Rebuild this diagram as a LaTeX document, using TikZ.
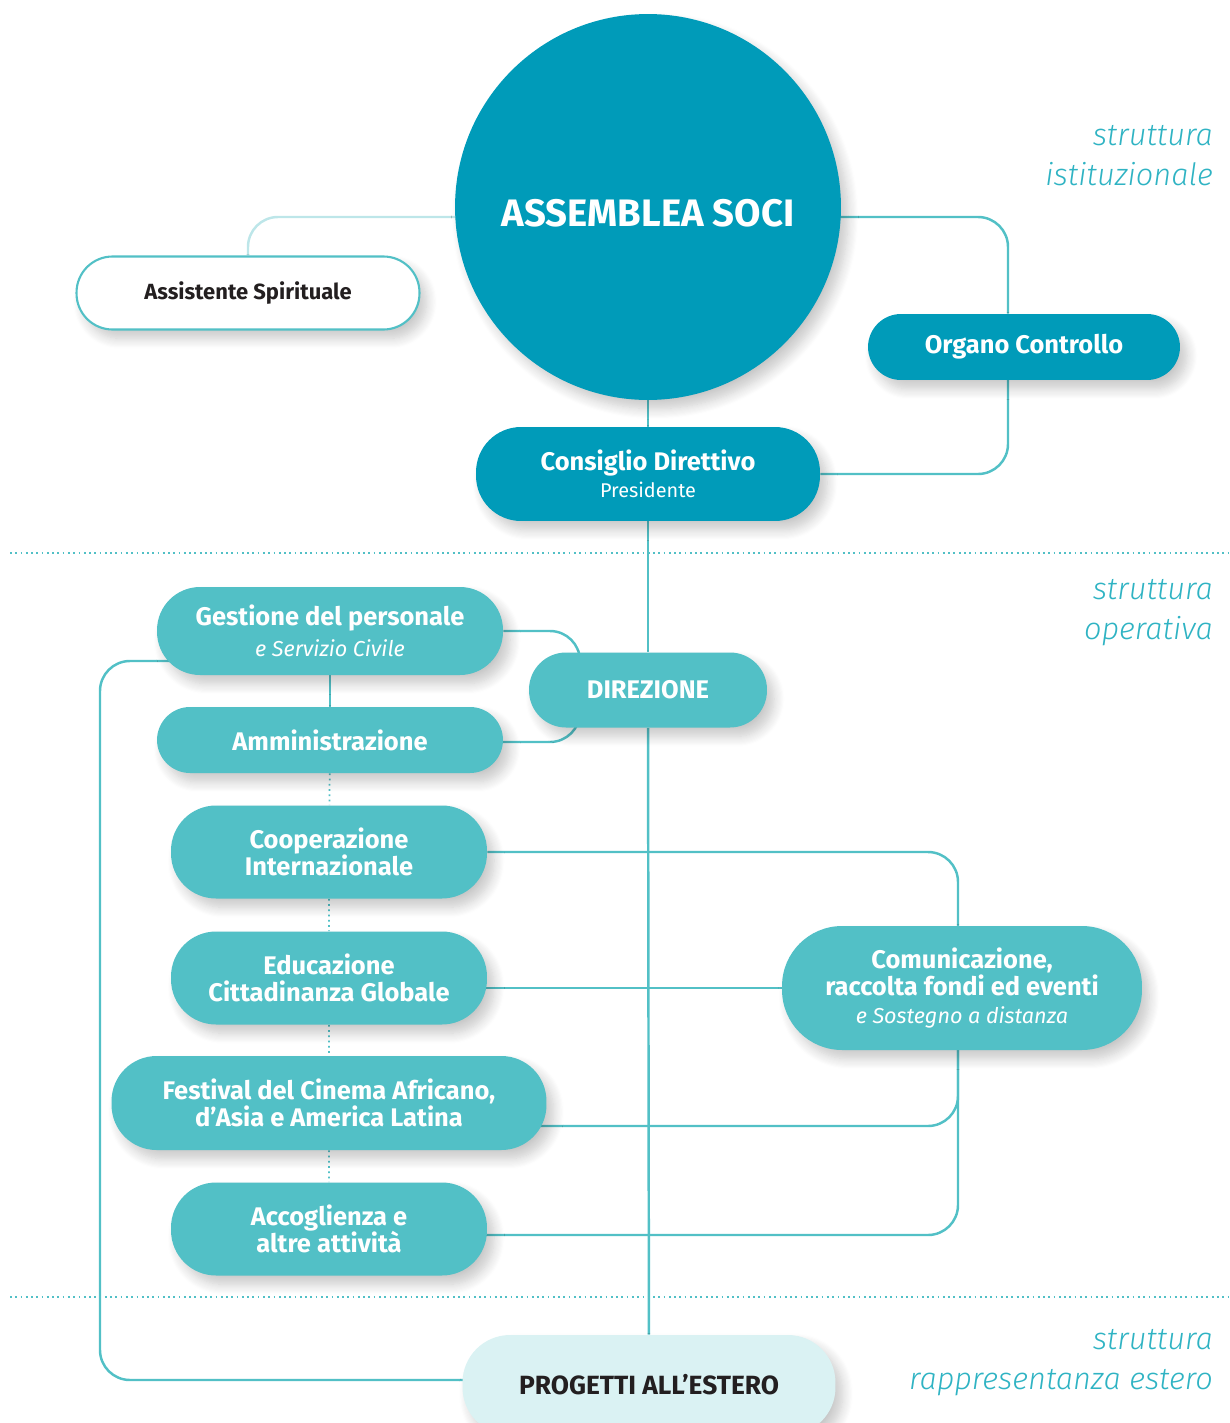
\documentclass[tikz,border=0pt]{standalone}
\usepackage{fontspec}
\setmainfont{Fira Sans}
\newfontfamily\thinfont{Fira Sans Light}
\usetikzlibrary{shadows.blur}
\definecolor{darkteal}{HTML}{009BB9}
\definecolor{midteal}{HTML}{52C0C6}
\definecolor{paleteal}{HTML}{BDE6E9}
\definecolor{iceteal}{HTML}{DAF2F3}
\definecolor{labteal}{HTML}{2FB3C3}
\definecolor{inkdark}{HTML}{231F20}
\pgfdeclarelayer{background}
\pgfsetlayers{background,main}
\newcommand\subtxt{\fontsize{12.3}{14}\selectfont\itshape\mdseries}

\begin{document}
\begin{tikzpicture}[x=0.02cm, y=-0.02cm,
    shade/.style={blur shadow={shadow blur steps=10, shadow xshift=4pt, shadow yshift=-5pt, shadow opacity=22, shadow blur radius=6pt}},
    pill/.style={rectangle, rounded corners=0.66cm, inner sep=2pt, align=center, text=white, font=\fontsize{14.5}{15.4}\selectfont\bfseries, shade},
    dnode/.style={pill, fill=darkteal},
    mnode/.style={pill, fill=midteal},
    link/.style={draw=midteal, line width=1.4pt, rounded corners=0.6cm},
    dots/.style={draw=midteal, line width=1pt, dotted},
    section/.style={anchor=north east, align=right, text=labteal, font=\fontsize{17.5}{22.7}\selectfont\thinfont\itshape}]
    \useasboundingbox (0,0) rectangle (1230,1423);

    \node[circle, fill=darkteal, minimum size=7.72cm, inner sep=0pt, shade, text=white, font=\fontsize{21.8}{24}\selectfont\bfseries] (assem) at (648,207) {\raisebox{-0.12cm}[\height][\depth]{ASSEMBLEA SOCI}};
    \node[pill, fill=white, draw=midteal, line width=1.2pt, text=inkdark, minimum width=6.86cm, minimum height=1.46cm, rounded corners=0.72cm, font=\fontsize{12.5}{15}\selectfont\bfseries] (ass) at (248,293) {Assistente Spirituale};
    \node[dnode, minimum width=6.24cm, minimum height=1.32cm] (org) at (1024,347) {Organo Controllo};
    \node[dnode, minimum width=6.88cm, minimum height=1.88cm, rounded corners=0.9cm] (cons) at (648,474) {Consiglio Direttivo\\[0pt]{\fontsize{11.3}{13}\selectfont\mdseries Presidente}};
    \node[mnode, minimum width=4.76cm, minimum height=1.5cm, rounded corners=0.74cm] (dir) at (648,690) {DIREZIONE};
    \node[mnode, minimum width=6.92cm, minimum height=1.76cm, rounded corners=0.86cm] (gest) at (330,631) {Gestione del personale\\[2pt]{\subtxt e Servizio Civile}};
    \node[mnode, minimum width=6.92cm, minimum height=1.32cm] (amm) at (330,740) {Amministrazione};
    \node[mnode, minimum width=6.32cm, minimum height=1.86cm, rounded corners=0.9cm] (coop) at (329,852) {Cooperazione\\Internazionale};
    \node[mnode, minimum width=6.32cm, minimum height=1.86cm, rounded corners=0.9cm] (edu) at (329,978) {Educazione\\Cittadinanza Globale};
    \node[mnode, minimum width=8.7cm, minimum height=1.88cm, rounded corners=0.9cm] (fest) at (329,1103) {Festival del Cinema Africano,\\d’Asia e America Latina};
    \node[mnode, minimum width=6.32cm, minimum height=1.86cm, rounded corners=0.9cm] (acc) at (329,1229) {Accoglienza e\\altre attività};
    \node[mnode, minimum width=7.2cm, minimum height=2.48cm, rounded corners=1.2cm] (com) at (962,988) {Comunicazione,\\raccolta fondi ed eventi\\[1pt]{\subtxt e Sostegno a distanza}};
    \node[pill, fill=iceteal, text=inkdark, minimum width=7.46cm, minimum height=2.0cm, rounded corners=0.95cm, font=\fontsize{15}{17}\selectfont\bfseries] (prog) at (649,1385) {PROGETTI ALL’ESTERO};

    \node[section] (lab1) at (1219,119) {struttura\\istituzionale};
    \node[section] (lab2) at (1219,573) {struttura\\operativa};
    \node[section] (lab3) at (1219,1323) {struttura\\rappresentanza estero};

    \coordinate (brk) at (580,690);
    \coordinate (lft) at (100,1000);

    \begin{pgfonlayer}{background}
    \draw[dots] (10,553) -- (1230,553);
    \draw[dots] (10,1297) -- (1230,1297);

    \draw[link, draw=paleteal] ([yshift=-0.2cm]assem.center) -| (ass.north);
    \draw[link] ([yshift=-0.2cm]assem.center) -| ([xshift=-0.32cm]org.north);
    \draw[link] ([xshift=-0.32cm]org.center) |- (cons);
    \draw[link] (assem) -- (cons);
    \draw[link] (cons) -- (dir);
    \draw[link] (dir) -- (prog);
    \draw[link] (gest) -| (brk) |- ([yshift=-0.04cm]amm.center);
    \draw[link] (gest) -- (amm);
    \draw[dots] (amm) -- (coop) -- (edu) -- (fest) -- (acc);
    \draw[link] (coop) -| ([xshift=-0.08cm]com.center);
    \draw[link] (com) -- (com -| edu);
    \draw[link] ([xshift=-0.08cm]com.center) |- ([yshift=-0.46cm]fest.center);
    \draw[link] ([xshift=-0.08cm]com.center) |- ([yshift=-0.12cm]acc.center);
    \draw[link] ([yshift=-0.6cm]gest.center) -| (lft) |- ([yshift=0.1cm]prog.center);
    \end{pgfonlayer}
\end{tikzpicture}
\end{document}
